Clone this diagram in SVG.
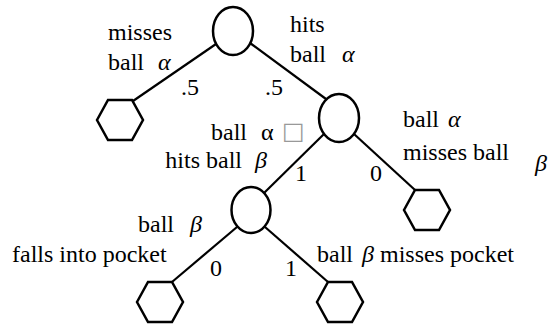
<svg xmlns="http://www.w3.org/2000/svg" width="551" height="327" viewBox="0 0 551 327">
<style>
.n{fill:#fff;stroke:#000;stroke-width:2.5}
.e{stroke:#000;stroke-width:2.2;fill:none}
text{font-family:"Liberation Serif","Times New Roman",serif;font-size:24px;fill:#000}
.g{font-style:italic}
</style>
<defs>
<polygon id="hex" points="-23,0 -12,-20 12,-20 23,0 12,20 -12,20"/>
</defs>
<rect width="551" height="327" fill="#fff"/>
<g id="connectors">
<line class="e" x1="216" y1="44" x2="133" y2="101"/>
<line class="e" x1="250" y1="43" x2="326" y2="99"/>
<line class="e" x1="324" y1="134" x2="264" y2="193"/>
<line class="e" x1="354" y1="134" x2="415" y2="190"/>
<line class="e" x1="237" y1="227" x2="172" y2="282"/>
<line class="e" x1="265" y1="227" x2="328" y2="282"/>
</g>
<g id="n0"><ellipse class="n" cx="233" cy="31" rx="20" ry="24"/></g>
<g id="n1"><use href="#hex" class="n" x="120" y="120"/></g>
<g id="n2"><ellipse class="n" cx="339" cy="118" rx="20" ry="24"/></g>
<g id="n3"><ellipse class="n" cx="251" cy="210" rx="19.5" ry="23"/></g>
<g id="n4"><use href="#hex" class="n" x="427" y="210"/></g>
<g id="n5"><use href="#hex" class="n" x="160" y="302"/></g>
<g id="n6"><use href="#hex" class="n" x="340" y="302"/></g>
<g id="labels">
<text x="108" y="40">misses</text>
<text x="108" y="70">ball</text>
<text x="158" y="70" class="g">α</text>
<text x="290" y="32">hits</text>
<text x="290" y="62">ball</text>
<text x="342" y="62" class="g">α</text>
<text x="181" y="95">.5</text>
<text x="265" y="95">.5</text>
<text x="211" y="140">ball</text>
<text x="261" y="140">α</text>
<text x="282" y="139" font-size="16" style="font-family:'DejaVu Sans',sans-serif;fill:#999">□</text>
<text x="242" y="168" text-anchor="end">hits ball</text>
<text x="255" y="168" class="g">β</text>
<text x="403" y="127">ball</text>
<text x="448" y="127" class="g">α</text>
<text x="403" y="160">misses ball</text>
<text x="535" y="171" class="g">β</text>
<text x="295" y="181">1</text>
<text x="370" y="181">0</text>
<text x="138" y="232">ball</text>
<text x="190" y="232" class="g">β</text>
<text x="12" y="262">falls into pocket</text>
<text x="210" y="276">0</text>
<text x="317" y="262">ball</text>
<text x="362" y="262" class="g">β</text>
<text x="380" y="262">misses pocket</text>
<text x="285" y="276">1</text>
</g>
</svg>
